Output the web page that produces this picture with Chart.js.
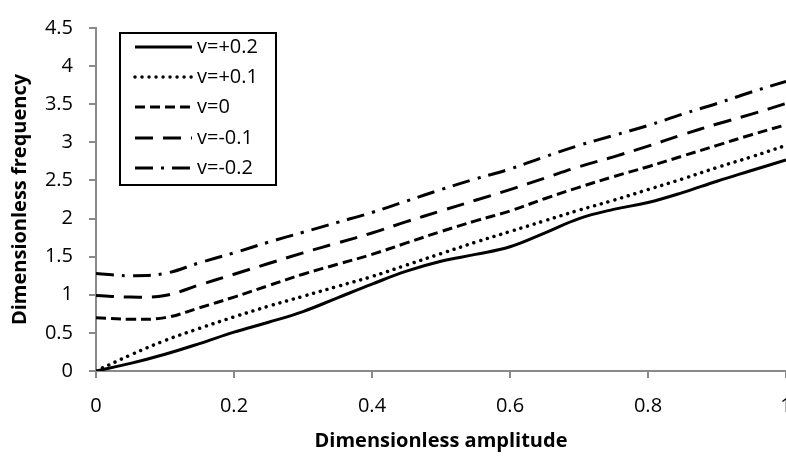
<!DOCTYPE html>
<html>
<head>
<meta charset="utf-8">
<script src="https://cdn.jsdelivr.net/npm/chart.js@4/dist/chart.umd.min.js"></script>
<style>
    html, body { margin: 0; padding: 0; background: #fff; overflow: hidden; }
    #wrap { width: 786px; height: 459px; }
</style>
</head>
<body>
<div id="wrap"><canvas id="myChart" width="786" height="459"></canvas></div>
<script>
// Start Data
const AMPLITUDE = [0, 0.05, 0.1, 0.15, 0.2, 0.25, 0.3, 0.35, 0.4, 0.45, 0.5, 0.55, 0.6, 0.65, 0.7, 0.75, 0.8, 0.85, 0.9, 0.95, 1.0];

const FREQ_P02 = [0, 0.10, 0.22, 0.36, 0.51, 0.64, 0.78, 0.96, 1.14, 1.31, 1.44, 1.53, 1.63, 1.81, 2.00, 2.12, 2.21, 2.34, 2.49, 2.63, 2.77];
const FREQ_P01 = [0, 0.21, 0.40, 0.56, 0.71, 0.85, 0.98, 1.11, 1.24, 1.39, 1.54, 1.69, 1.83, 1.97, 2.11, 2.24, 2.38, 2.52, 2.67, 2.81, 2.96];
const FREQ_0   = [0.70, 0.68, 0.70, 0.83, 0.97, 1.12, 1.27, 1.40, 1.53, 1.68, 1.83, 1.97, 2.10, 2.26, 2.41, 2.55, 2.68, 2.82, 2.96, 3.10, 3.23];
const FREQ_M01 = [0.99, 0.97, 0.99, 1.13, 1.27, 1.41, 1.55, 1.68, 1.81, 1.96, 2.10, 2.24, 2.38, 2.53, 2.68, 2.81, 2.95, 3.10, 3.24, 3.37, 3.51];
const FREQ_M02 = [1.28, 1.25, 1.28, 1.42, 1.55, 1.69, 1.82, 1.95, 2.08, 2.23, 2.38, 2.52, 2.65, 2.81, 2.96, 3.09, 3.22, 3.37, 3.51, 3.66, 3.80];

const SERIES_LABELS = ['v=+0.2', 'v=+0.1', 'v=0', 'v=-0.1', 'v=-0.2'];

const X_TICKS = [0, 0.2, 0.4, 0.6, 0.8, 1];
const Y_TICKS = [0, 0.5, 1, 1.5, 2, 2.5, 3, 3.5, 4, 4.5];
// !!End Data

const FONT = "'Open Sans', 'Noto Sans', sans-serif";
const AXIS_GRAY = '#8a8a8a';

function toPoints(ys) {
    return ys.map(function (y, i) { return { x: AMPLITUDE[i], y: y }; });
}

function makeSet(label, ys, dash, cap, width) {
    return {
        label: label,
        data: toPoints(ys),
        borderColor: '#000',
        borderWidth: width || 3,
        borderDash: dash,
        borderCapStyle: cap || 'butt',
        pointRadius: 0,
        fill: false,
        tension: 0.4
    };
}

// Start Legend (drawn inside the plot, like the original)
const boxLegend = {
    id: 'boxLegend',
    afterDraw: function (chart) {
        const ctx = chart.ctx;
        const rowY = [47, 77, 107, 138, 168];
        ctx.save();
        ctx.fillStyle = '#fff';
        ctx.fillRect(120, 33, 156, 152);
        ctx.lineWidth = 2;
        ctx.strokeStyle = '#000';
        ctx.strokeRect(120, 33, 156, 152);

        chart.data.datasets.forEach(function (ds, i) {
            ctx.beginPath();
            ctx.lineWidth = ds.borderWidth;
            ctx.lineCap = ds.borderCapStyle;
            ctx.setLineDash(ds.borderDash);
            ctx.moveTo(135, rowY[i]);
            ctx.lineTo(192, rowY[i]);
            ctx.stroke();
        });

        ctx.setLineDash([]);
        ctx.fillStyle = '#000';
        ctx.font = '20px ' + FONT;
        ctx.textBaseline = 'middle';
        ctx.textAlign = 'left';
        chart.data.datasets.forEach(function (ds, i) {
            ctx.fillText(ds.label, 197, rowY[i]);
        });
        ctx.restore();
    }
};
// !!End Legend

const ctx = document.getElementById('myChart').getContext('2d');

new Chart(ctx, {
    type: 'line',
    data: {
        datasets: [
            makeSet(SERIES_LABELS[0], FREQ_P02, []),
            makeSet(SERIES_LABELS[1], FREQ_P01, [0.01, 7], 'round', 3.5),
            makeSet(SERIES_LABELS[2], FREQ_0, [10, 5]),
            makeSet(SERIES_LABELS[3], FREQ_M01, [18, 10]),
            makeSet(SERIES_LABELS[4], FREQ_M02, [18, 8, 3, 8])
        ]
    },
    plugins: [boxLegend],
    options: {
        responsive: false,
        animation: false,
        devicePixelRatio: 1,
        // the original plot runs a few pixels past the right edge, so "1" is cut off
        layout: { padding: { top: 18, right: -3, bottom: 0, left: 0 } },
        plugins: {
            legend: { display: false },
            tooltip: { enabled: false }
        },
        scales: {
            x: {
                type: 'linear',
                min: 0,
                max: 1,
                afterBuildTicks: function (scale) {
                    scale.ticks = X_TICKS.map(function (v) { return { value: v }; });
                },
                afterFit: function (scale) {
                    scale.height = 88;
                    scale.paddingRight = 0;
                },
                border: { display: true, color: AXIS_GRAY, width: 2 },
                grid: { drawOnChartArea: false, drawTicks: true, tickLength: 7, color: AXIS_GRAY, lineWidth: 2 },
                ticks: {
                    color: '#000',
                    padding: 16,
                    maxRotation: 0,
                    autoSkip: false,
                    font: { family: FONT, size: 20 },
                    callback: function (value) { return String(value); }
                },
                title: {
                    display: true,
                    text: 'Dimensionless amplitude',
                    color: '#000',
                    padding: { top: 0, bottom: 6 },
                    font: { family: FONT, size: 20, weight: 'bold' }
                }
            },
            y: {
                min: 0,
                max: 4.5,
                afterBuildTicks: function (scale) {
                    scale.ticks = Y_TICKS.map(function (v) { return { value: v }; });
                },
                afterFit: function (scale) { scale.width = 96; },
                border: { display: true, color: AXIS_GRAY, width: 2 },
                grid: { drawOnChartArea: false, drawTicks: true, tickLength: 7, color: AXIS_GRAY, lineWidth: 2 },
                ticks: {
                    color: '#000',
                    padding: 16,
                    autoSkip: false,
                    font: { family: FONT, size: 20 },
                    callback: function (value) { return String(value); }
                },
                title: {
                    display: true,
                    text: 'Dimensionless frequency',
                    color: '#000',
                    padding: { top: 8, bottom: 0 },
                    font: { family: FONT, size: 20, weight: 'bold' }
                }
            }
        }
    }
});
</script>
</body>
</html>
